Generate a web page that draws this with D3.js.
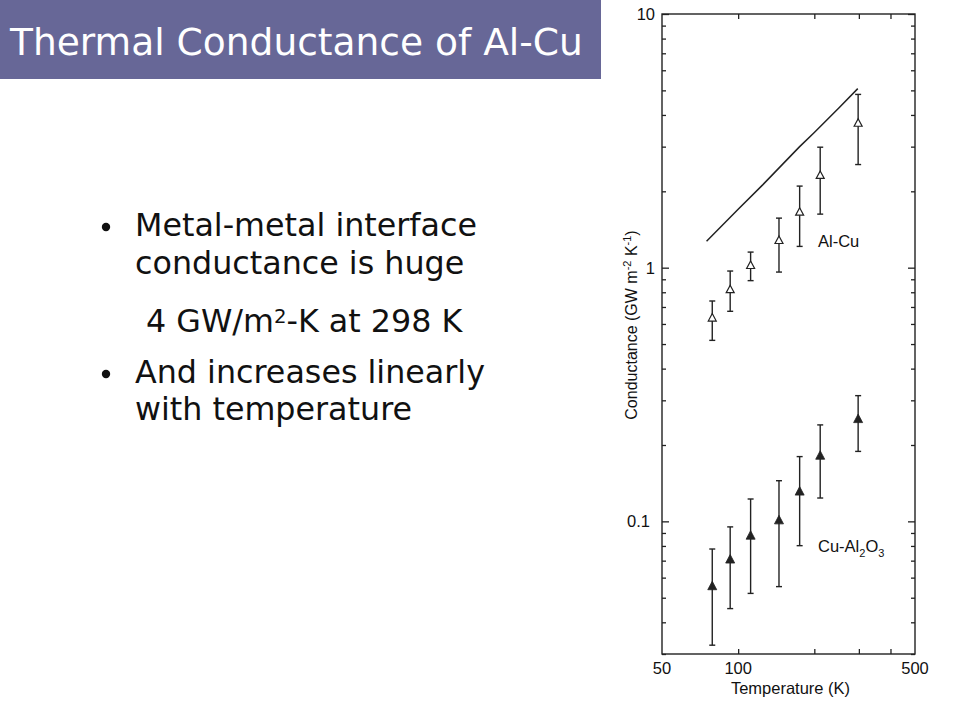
<!DOCTYPE html>
<html><head><meta charset="utf-8">
<script src="https://cdn.jsdelivr.net/npm/d3@7"></script>
<style>body{margin:0;background:#fff}svg{display:block}</style>
</head><body>
<svg id="c" width="960" height="720"></svg>
<script>
// ---- data ----
const temps   = [79, 93, 112, 145, 175, 211, 298];
const alcu    = [0.633, 0.819, 1.02, 1.28, 1.655, 2.31, 3.71];
const alcuLo  = [0.517, 0.673, 0.889, 0.961, 1.213, 1.626, 2.55];
const alcuHi  = [0.739, 0.970, 1.152, 1.568, 2.097, 2.985, 4.82];
const cual    = [0.0555, 0.0707, 0.0878, 0.1009, 0.131, 0.1814, 0.253];
const cualLo  = [0.0325, 0.0453, 0.052, 0.0553, 0.0802, 0.1236, 0.1887];
const cualHi  = [0.0778, 0.0951, 0.1225, 0.1446, 0.180, 0.240, 0.313];
const lineT   = [75, 100, 125, 150, 175, 200, 250, 297];
const lineG   = [1.27, 1.70, 2.12, 2.56, 3.0, 3.41, 4.26, 5.08];
const xTickLabels = [50, 100, 500];
const xMinorTicks = [200, 300, 400];
const yTickLabels = [0.1, 1, 10];
const titleText = "Thermal Conductance of Al-Cu";

const svg = d3.select("#c");
const ink = "#222";

// ---- slide title banner ----
svg.append("rect").attr("x",0).attr("y",0).attr("width",601).attr("height",79).attr("fill","#676797");
const title = svg.append("text").attr("x",10).attr("y",55).attr("fill","#fff")
  .style("font-family","'DejaVu Sans', Verdana, sans-serif").style("font-size","31px").text(titleText);
{ const w = title.node().getComputedTextLength(); title.style("font-size", (31*573/w)+"px"); }

// ---- bullet text ----
const bf = "'DejaVu Sans', Verdana, sans-serif";
const l1 = svg.append("text").attr("x",135).attr("y",236).style("font-family",bf).style("font-size","26px").attr("fill","#111").text("Metal-metal interface");
const w1 = l1.node().getComputedTextLength();
const fs = 26*342/w1;
l1.style("font-size",fs+"px");
function line(x,y,t){ return svg.append("text").attr("x",x).attr("y",y).style("font-family",bf).style("font-size",fs+"px").attr("fill","#111").text(t); }
line(135,274,"conductance is huge");
const l3 = svg.append("text").attr("x",146).attr("y",332).style("font-family",bf).style("font-size",fs+"px").attr("fill","#111");
l3.append("tspan").text("4 GW/m");
l3.append("tspan").attr("dy",-9).style("font-size",(fs*0.62)+"px").text("2");
l3.append("tspan").attr("dy",9).text("-K at 298 K");
line(135,383,"And increases linearly");
line(135,420,"with temperature");
svg.append("circle").attr("cx",106).attr("cy",227).attr("r",4.2).attr("fill","#111");
svg.append("circle").attr("cx",106).attr("cy",374).attr("r",4.2).attr("fill","#111");

// ---- chart ----
const L=662, R=915, T=14, B=654;
const x = d3.scaleLog().domain([50,500]).range([L,R]);
const y = d3.scaleLog().domain([0.03,10]).range([B,T]);
const cf = "'Liberation Sans', Arial, sans-serif";

const g = svg.append("g");
const yMinor = [];
[0.01,0.1,1].forEach(d=>{ for(let k=2;k<=9;k++){ const v=d*k; if(v>=0.03 && v<10) yMinor.push(v);} });
g.append("g").attr("transform",`translate(${L},0)`).call(d3.axisRight(y).tickValues(yMinor).tickSize(4).tickFormat(""));
g.append("g").attr("transform",`translate(${R},0)`).call(d3.axisLeft(y).tickValues(yMinor).tickSize(4).tickFormat(""));
g.append("g").attr("transform",`translate(${L},0)`).call(d3.axisRight(y).tickValues(yTickLabels).tickSize(7).tickFormat(""));
g.append("g").attr("transform",`translate(${R},0)`).call(d3.axisLeft(y).tickValues(yTickLabels).tickSize(7).tickFormat(""));
g.append("g").attr("transform",`translate(0,${B})`).call(d3.axisTop(x).tickValues([100].concat(xMinorTicks)).tickSize(5).tickFormat(""));
g.append("g").attr("transform",`translate(0,${T})`).call(d3.axisBottom(x).tickValues([100].concat(xMinorTicks)).tickSize(5).tickFormat(""));
g.selectAll(".domain").remove();
g.selectAll(".tick line").attr("stroke",ink).attr("stroke-width",1.3);
svg.append("rect").attr("x",L).attr("y",T).attr("width",R-L).attr("height",B-T).attr("fill","none").attr("stroke",ink).attr("stroke-width",1.4);

// tick labels
svg.append("g").selectAll("text").data(yTickLabels).join("text")
  .attr("x",d=> d===0.1?650:655).attr("y",d=>y(d)+6).attr("text-anchor","end")
  .style("font-family",cf).style("font-size","16.5px").attr("fill","#111").text(d=>String(d));
svg.append("g").selectAll("text").data(xTickLabels).join("text")
  .attr("x",d=>x(d)).attr("y",674).attr("text-anchor","middle")
  .style("font-family",cf).style("font-size","16.5px").attr("fill","#111").text(d=>String(d));
svg.append("text").attr("x",(L+R)/2+2).attr("y",694).attr("text-anchor","middle")
  .style("font-family",cf).style("font-size","16.5px").attr("fill","#111").text("Temperature (K)");
const yl = svg.append("text").attr("transform","translate(637,325) rotate(-90)").attr("text-anchor","middle")
  .style("font-family",cf).style("font-size","16px").attr("fill","#111");
yl.append("tspan").text("Conductance (GW m");
yl.append("tspan").attr("dy",-6).style("font-size","11px").text("-2");
yl.append("tspan").attr("dy",6).text(" K");
yl.append("tspan").attr("dy",-6).style("font-size","11px").text("-1");
yl.append("tspan").attr("dy",6).text(")");

// model line
svg.append("path").datum(lineT.map((t,i)=>[t,lineG[i]]))
  .attr("d", d3.line().x(d=>x(d[0])).y(d=>y(d[1])))
  .attr("fill","none").attr("stroke",ink).attr("stroke-width",1.5);

// error bars + markers
function series(vals, lo, hi, filled){
  const gg = svg.append("g");
  const rows = temps.map((t,i)=>({t, v:vals[i], lo:lo[i], hi:hi[i]}));
  gg.selectAll(".eb").data(rows).join("line").attr("x1",d=>x(d.t)).attr("x2",d=>x(d.t))
    .attr("y1",d=>y(d.lo)).attr("y2",d=>y(d.hi)).attr("stroke",ink).attr("stroke-width",1.4);
  gg.selectAll(".ct").data(rows).join("line").attr("x1",d=>x(d.t)-3).attr("x2",d=>x(d.t)+3)
    .attr("y1",d=>y(d.hi)).attr("y2",d=>y(d.hi)).attr("stroke",ink).attr("stroke-width",1.4);
  gg.selectAll(".cb").data(rows).join("line").attr("x1",d=>x(d.t)-3).attr("x2",d=>x(d.t)+3)
    .attr("y1",d=>y(d.lo)).attr("y2",d=>y(d.lo)).attr("stroke",ink).attr("stroke-width",1.4);
  gg.selectAll("path").data(rows).join("path")
    .attr("transform",d=>`translate(${x(d.t)},${y(d.v)})`)
    .attr("d", filled ? "M0,-5L4.5,3.5L-4.5,3.5Z" : "M0,-4.5L4,3L-4,3Z")
    .attr("fill", filled ? ink : "#fff").attr("stroke",ink).attr("stroke-width", filled?0.8:1.2);
}
series(alcu, alcuLo, alcuHi, false);
series(cual, cualLo, cualHi, true);

// annotations
svg.append("text").attr("x",818).attr("y",247).style("font-family",cf).style("font-size","16.5px").attr("fill","#111").text("Al-Cu");
const ca = svg.append("text").attr("x",818).attr("y",552).style("font-family",cf).style("font-size","16.5px").attr("fill","#111");
ca.append("tspan").text("Cu-Al");
ca.append("tspan").attr("dy",5).style("font-size","11px").text("2");
ca.append("tspan").attr("dy",-5).text("O");
ca.append("tspan").attr("dy",5).style("font-size","11px").text("3");
</script>
</body></html>
